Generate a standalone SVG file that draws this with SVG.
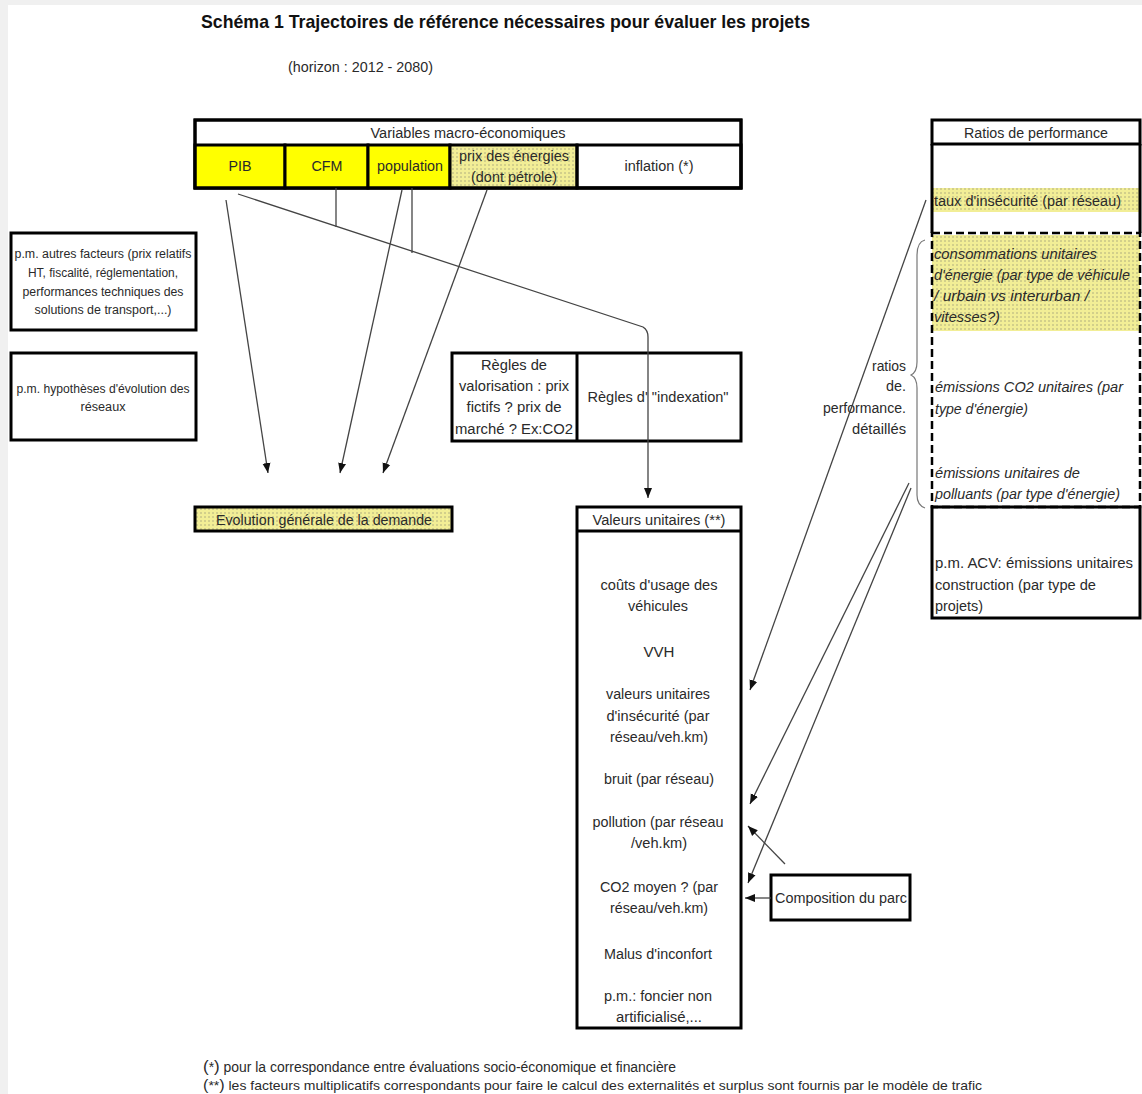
<svg xmlns="http://www.w3.org/2000/svg" width="1142" height="1094" viewBox="0 0 1142 1094">
<defs>
<style>
.t{font-family:"Liberation Sans",Arial,sans-serif;fill:#2a2a2a;font-size:15.5px}
.s{font-size:12px}
.r{font-size:14px}
.i{font-style:italic}
.m{text-anchor:middle}
.e{text-anchor:end}
.bx{fill:#fff;stroke:#000;stroke-width:3}
.nf{fill:none;stroke:#000;stroke-width:3}
.ds{fill:none;stroke:#000;stroke-width:2.5;stroke-dasharray:8 4}
.c{stroke:#444;stroke-width:1.3;fill:none}
</style>
<pattern id="dots" width="4" height="4" patternUnits="userSpaceOnUse">
<rect width="4" height="4" fill="#f2ee96"/>
<circle cx="1" cy="1" r="0.7" fill="#9a9878"/>
</pattern>
<marker id="ah" viewBox="0 0 10 10" refX="10" refY="5" markerWidth="10" markerHeight="10" orient="auto" markerUnits="userSpaceOnUse">
<path d="M0,1 L10,5 L0,9 z" fill="#111"/>
</marker>
</defs>
<rect x="0" y="0" width="1142" height="1094" fill="#f0f0f0"/>
<rect x="8" y="5" width="1134" height="1089" fill="#fff"/>

<g id="title">
<text class="t" x="201" y="28" font-weight="bold" style="fill:#111;font-size:19px" textLength="609" lengthAdjust="spacingAndGlyphs">Schéma 1 Trajectoires de référence nécessaires pour évaluer les projets</text>
<text class="t r" x="288" y="72" textLength="145" lengthAdjust="spacingAndGlyphs">(horizon : 2012 - 2080)</text>
</g>

<g id="macro">
<rect class="bx" x="195" y="120" width="546" height="68"/>
<rect x="195" y="145" width="90" height="43" fill="#ffff00" stroke="#000" stroke-width="3"/>
<rect x="285" y="145" width="83" height="43" fill="#ffff00" stroke="#000" stroke-width="3"/>
<rect x="368" y="145" width="82" height="43" fill="#ffff00" stroke="#000" stroke-width="3"/>
<rect x="450" y="145" width="127" height="43" fill="url(#dots)" stroke="#000" stroke-width="3"/>
<rect class="nf" x="577" y="145" width="164" height="43"/>
<rect class="nf" x="195" y="120" width="546" height="68"/>
<text class="t m" x="468" y="138" textLength="195" lengthAdjust="spacingAndGlyphs">Variables macro-économiques</text>
<text class="t m" x="240" y="171" textLength="23" lengthAdjust="spacingAndGlyphs">PIB</text>
<text class="t m" x="327" y="171" textLength="31" lengthAdjust="spacingAndGlyphs">CFM</text>
<text class="t m" x="410" y="171" textLength="66" lengthAdjust="spacingAndGlyphs">population</text>
<text class="t m" x="514" y="161" textLength="110" lengthAdjust="spacingAndGlyphs">prix des énergies</text>
<text class="t m" x="514" y="182" textLength="86" lengthAdjust="spacingAndGlyphs">(dont pétrole)</text>
<text class="t m" x="659" y="171" textLength="69" lengthAdjust="spacingAndGlyphs">inflation (*)</text>
</g>

<g id="autres">
<rect class="bx" x="11" y="233" width="185" height="97"/>
<text class="t s m" x="103" y="258" textLength="177" lengthAdjust="spacingAndGlyphs">p.m. autres facteurs (prix relatifs</text>
<text class="t s m" x="103" y="277" textLength="150" lengthAdjust="spacingAndGlyphs">HT, fiscalité, réglementation,</text>
<text class="t s m" x="103" y="296" textLength="161" lengthAdjust="spacingAndGlyphs">performances techniques des</text>
<text class="t s m" x="103" y="314" textLength="137" lengthAdjust="spacingAndGlyphs">solutions de transport,...)</text>
</g>

<g id="reseaux">
<rect class="bx" x="11" y="353" width="185" height="87"/>
<text class="t s m" x="103" y="393" textLength="173" lengthAdjust="spacingAndGlyphs">p.m. hypothèses d'évolution des</text>
<text class="t s m" x="103" y="411" textLength="45" lengthAdjust="spacingAndGlyphs">réseaux</text>
</g>

<g id="regles">
<rect class="bx" x="452" y="353" width="289" height="88"/>
<line x1="577" y1="353" x2="577" y2="441" stroke="#000" stroke-width="3"/>
<text class="t m" x="514" y="370" textLength="66" lengthAdjust="spacingAndGlyphs">Règles de</text>
<text class="t m" x="514" y="391" textLength="110" lengthAdjust="spacingAndGlyphs">valorisation : prix</text>
<text class="t m" x="514" y="412" textLength="95" lengthAdjust="spacingAndGlyphs">fictifs ? prix de</text>
<text class="t m" x="514" y="434" textLength="118" lengthAdjust="spacingAndGlyphs">marché ? Ex:CO2</text>
<text class="t m" x="658" y="402" textLength="141" lengthAdjust="spacingAndGlyphs">Règles d' "indexation"</text>
</g>

<g id="evolution">
<rect x="195" y="507" width="257" height="24" fill="url(#dots)" stroke="#000" stroke-width="3"/>
<text class="t m" x="324" y="525" textLength="216" lengthAdjust="spacingAndGlyphs">Evolution générale de la demande</text>
</g>

<g id="valeurs">
<rect class="bx" x="577" y="507" width="164" height="521"/>
<line x1="577" y1="531" x2="741" y2="531" stroke="#000" stroke-width="3"/>
<text class="t m" x="659" y="525" textLength="133" lengthAdjust="spacingAndGlyphs">Valeurs unitaires (**)</text>
<text class="t m" x="659" y="590" textLength="117" lengthAdjust="spacingAndGlyphs">coûts d'usage des</text>
<text class="t m" x="658" y="611" textLength="60" lengthAdjust="spacingAndGlyphs">véhicules</text>
<text class="t m" x="659" y="657" textLength="31" lengthAdjust="spacingAndGlyphs">VVH</text>
<text class="t m" x="658" y="699" textLength="104" lengthAdjust="spacingAndGlyphs">valeurs unitaires</text>
<text class="t m" x="658" y="721" textLength="103" lengthAdjust="spacingAndGlyphs">d'insécurité (par</text>
<text class="t m" x="659" y="742" textLength="98" lengthAdjust="spacingAndGlyphs">réseau/veh.km)</text>
<text class="t m" x="659" y="784" textLength="110" lengthAdjust="spacingAndGlyphs">bruit (par réseau)</text>
<text class="t m" x="658" y="827" textLength="131" lengthAdjust="spacingAndGlyphs">pollution (par réseau</text>
<text class="t m" x="659" y="848" textLength="56" lengthAdjust="spacingAndGlyphs">/veh.km)</text>
<text class="t m" x="659" y="892" textLength="118" lengthAdjust="spacingAndGlyphs">CO2 moyen ? (par</text>
<text class="t m" x="659" y="913" textLength="98" lengthAdjust="spacingAndGlyphs">réseau/veh.km)</text>
<text class="t m" x="658" y="959" textLength="108" lengthAdjust="spacingAndGlyphs">Malus d'inconfort</text>
<text class="t m" x="658" y="1001" textLength="108" lengthAdjust="spacingAndGlyphs">p.m.: foncier non</text>
<text class="t m" x="659" y="1022" textLength="86" lengthAdjust="spacingAndGlyphs">artificialisé,...</text>
</g>

<g id="composition">
<rect class="bx" x="771" y="875" width="139" height="45"/>
<text class="t" x="775" y="903" textLength="132" lengthAdjust="spacingAndGlyphs">Composition du parc</text>
</g>

<g id="ratios">
<rect x="932" y="188" width="208" height="24" fill="url(#dots)"/>
<rect x="932" y="235" width="208" height="96" fill="url(#dots)"/>
<rect class="nf" x="932" y="120" width="208" height="24"/>
<line x1="932" y1="144" x2="932" y2="233" stroke="#000" stroke-width="3"/>
<line x1="1140" y1="144" x2="1140" y2="233" stroke="#000" stroke-width="3"/>
<rect class="ds" x="932" y="233" width="208" height="274"/>
<rect class="nf" x="932" y="507" width="208" height="111"/>
<text class="t r m" x="1036" y="138" textLength="144" lengthAdjust="spacingAndGlyphs">Ratios de performance</text>
<text class="t r" x="934" y="206" textLength="187" lengthAdjust="spacingAndGlyphs">taux d'insécurité (par réseau)</text>
<text class="t r i" x="934" y="259" textLength="163" lengthAdjust="spacingAndGlyphs">consommations unitaires</text>
<text class="t r i" x="934" y="280" textLength="196" lengthAdjust="spacingAndGlyphs">d'énergie (par type de véhicule</text>
<text class="t r i" x="934" y="301" textLength="155" lengthAdjust="spacingAndGlyphs">/ urbain vs interurban /</text>
<text class="t r i" x="934" y="322" textLength="66" lengthAdjust="spacingAndGlyphs">vitesses?)</text>
<text class="t r i" x="935" y="392" textLength="188" lengthAdjust="spacingAndGlyphs">émissions CO2 unitaires (par</text>
<text class="t r i" x="935" y="414" textLength="93" lengthAdjust="spacingAndGlyphs">type d'énergie)</text>
<text class="t r i" x="935" y="478" textLength="145" lengthAdjust="spacingAndGlyphs">émissions unitaires de</text>
<text class="t r i" x="935" y="499" textLength="185" lengthAdjust="spacingAndGlyphs">polluants (par type d'énergie)</text>
<text class="t r" x="935" y="568" textLength="198" lengthAdjust="spacingAndGlyphs">p.m. ACV: émissions unitaires</text>
<text class="t r" x="935" y="590" textLength="161" lengthAdjust="spacingAndGlyphs">construction (par type de</text>
<text class="t r" x="935" y="611" textLength="48" lengthAdjust="spacingAndGlyphs">projets)</text>
</g>

<g id="brace-label">
<path d="M925,240 Q917,242 917,255 L917,362 Q917,372 911,375 Q917,378 917,388 L917,495 Q917,505 925,508" fill="none" stroke="#777" stroke-width="1.2"/>
<text class="t r e" x="906" y="371" textLength="34" lengthAdjust="spacingAndGlyphs">ratios</text>
<text class="t r e" x="906" y="391" textLength="20" lengthAdjust="spacingAndGlyphs">de.</text>
<text class="t r e" x="906" y="413" textLength="83" lengthAdjust="spacingAndGlyphs">performance.</text>
<text class="t r e" x="906" y="434" textLength="54" lengthAdjust="spacingAndGlyphs">détaillés</text>
</g>

<g id="connectors">
<path class="c" d="M226,200 L268,473" marker-end="url(#ah)"/>
<path class="c" d="M238,194 L643,327 Q648,330 648,337 L648,498" marker-end="url(#ah)"/>
<path class="c" d="M336,188 L336,227"/>
<path class="c" d="M402,190 L340,473" marker-end="url(#ah)"/>
<path class="c" d="M412,188 L412,253"/>
<path class="c" d="M487,190 L383,473" marker-end="url(#ah)"/>
<path class="c" d="M926,200 L750,690" marker-end="url(#ah)"/>
<path class="c" d="M909,483 L750,804" marker-end="url(#ah)"/>
<path class="c" d="M911,488 L748,883" marker-end="url(#ah)"/>
<path class="c" d="M785,864 L748,826" marker-end="url(#ah)"/>
<path class="c" d="M771,898 L745,898" marker-end="url(#ah)"/>
</g>

<g id="footnotes">
<text class="t r" x="203" y="1072" textLength="473" lengthAdjust="spacingAndGlyphs"><tspan font-size="17">(</tspan>*<tspan font-size="17">)</tspan> pour la correspondance entre évaluations socio-économique et financière</text>
<text class="t" x="203" y="1090" style="font-size:13px" textLength="779" lengthAdjust="spacingAndGlyphs"><tspan font-size="15">(</tspan>**<tspan font-size="15">)</tspan> les facteurs multiplicatifs correspondants pour faire le calcul des externalités et surplus sont fournis par le modèle de trafic</text>
</g>
</svg>
